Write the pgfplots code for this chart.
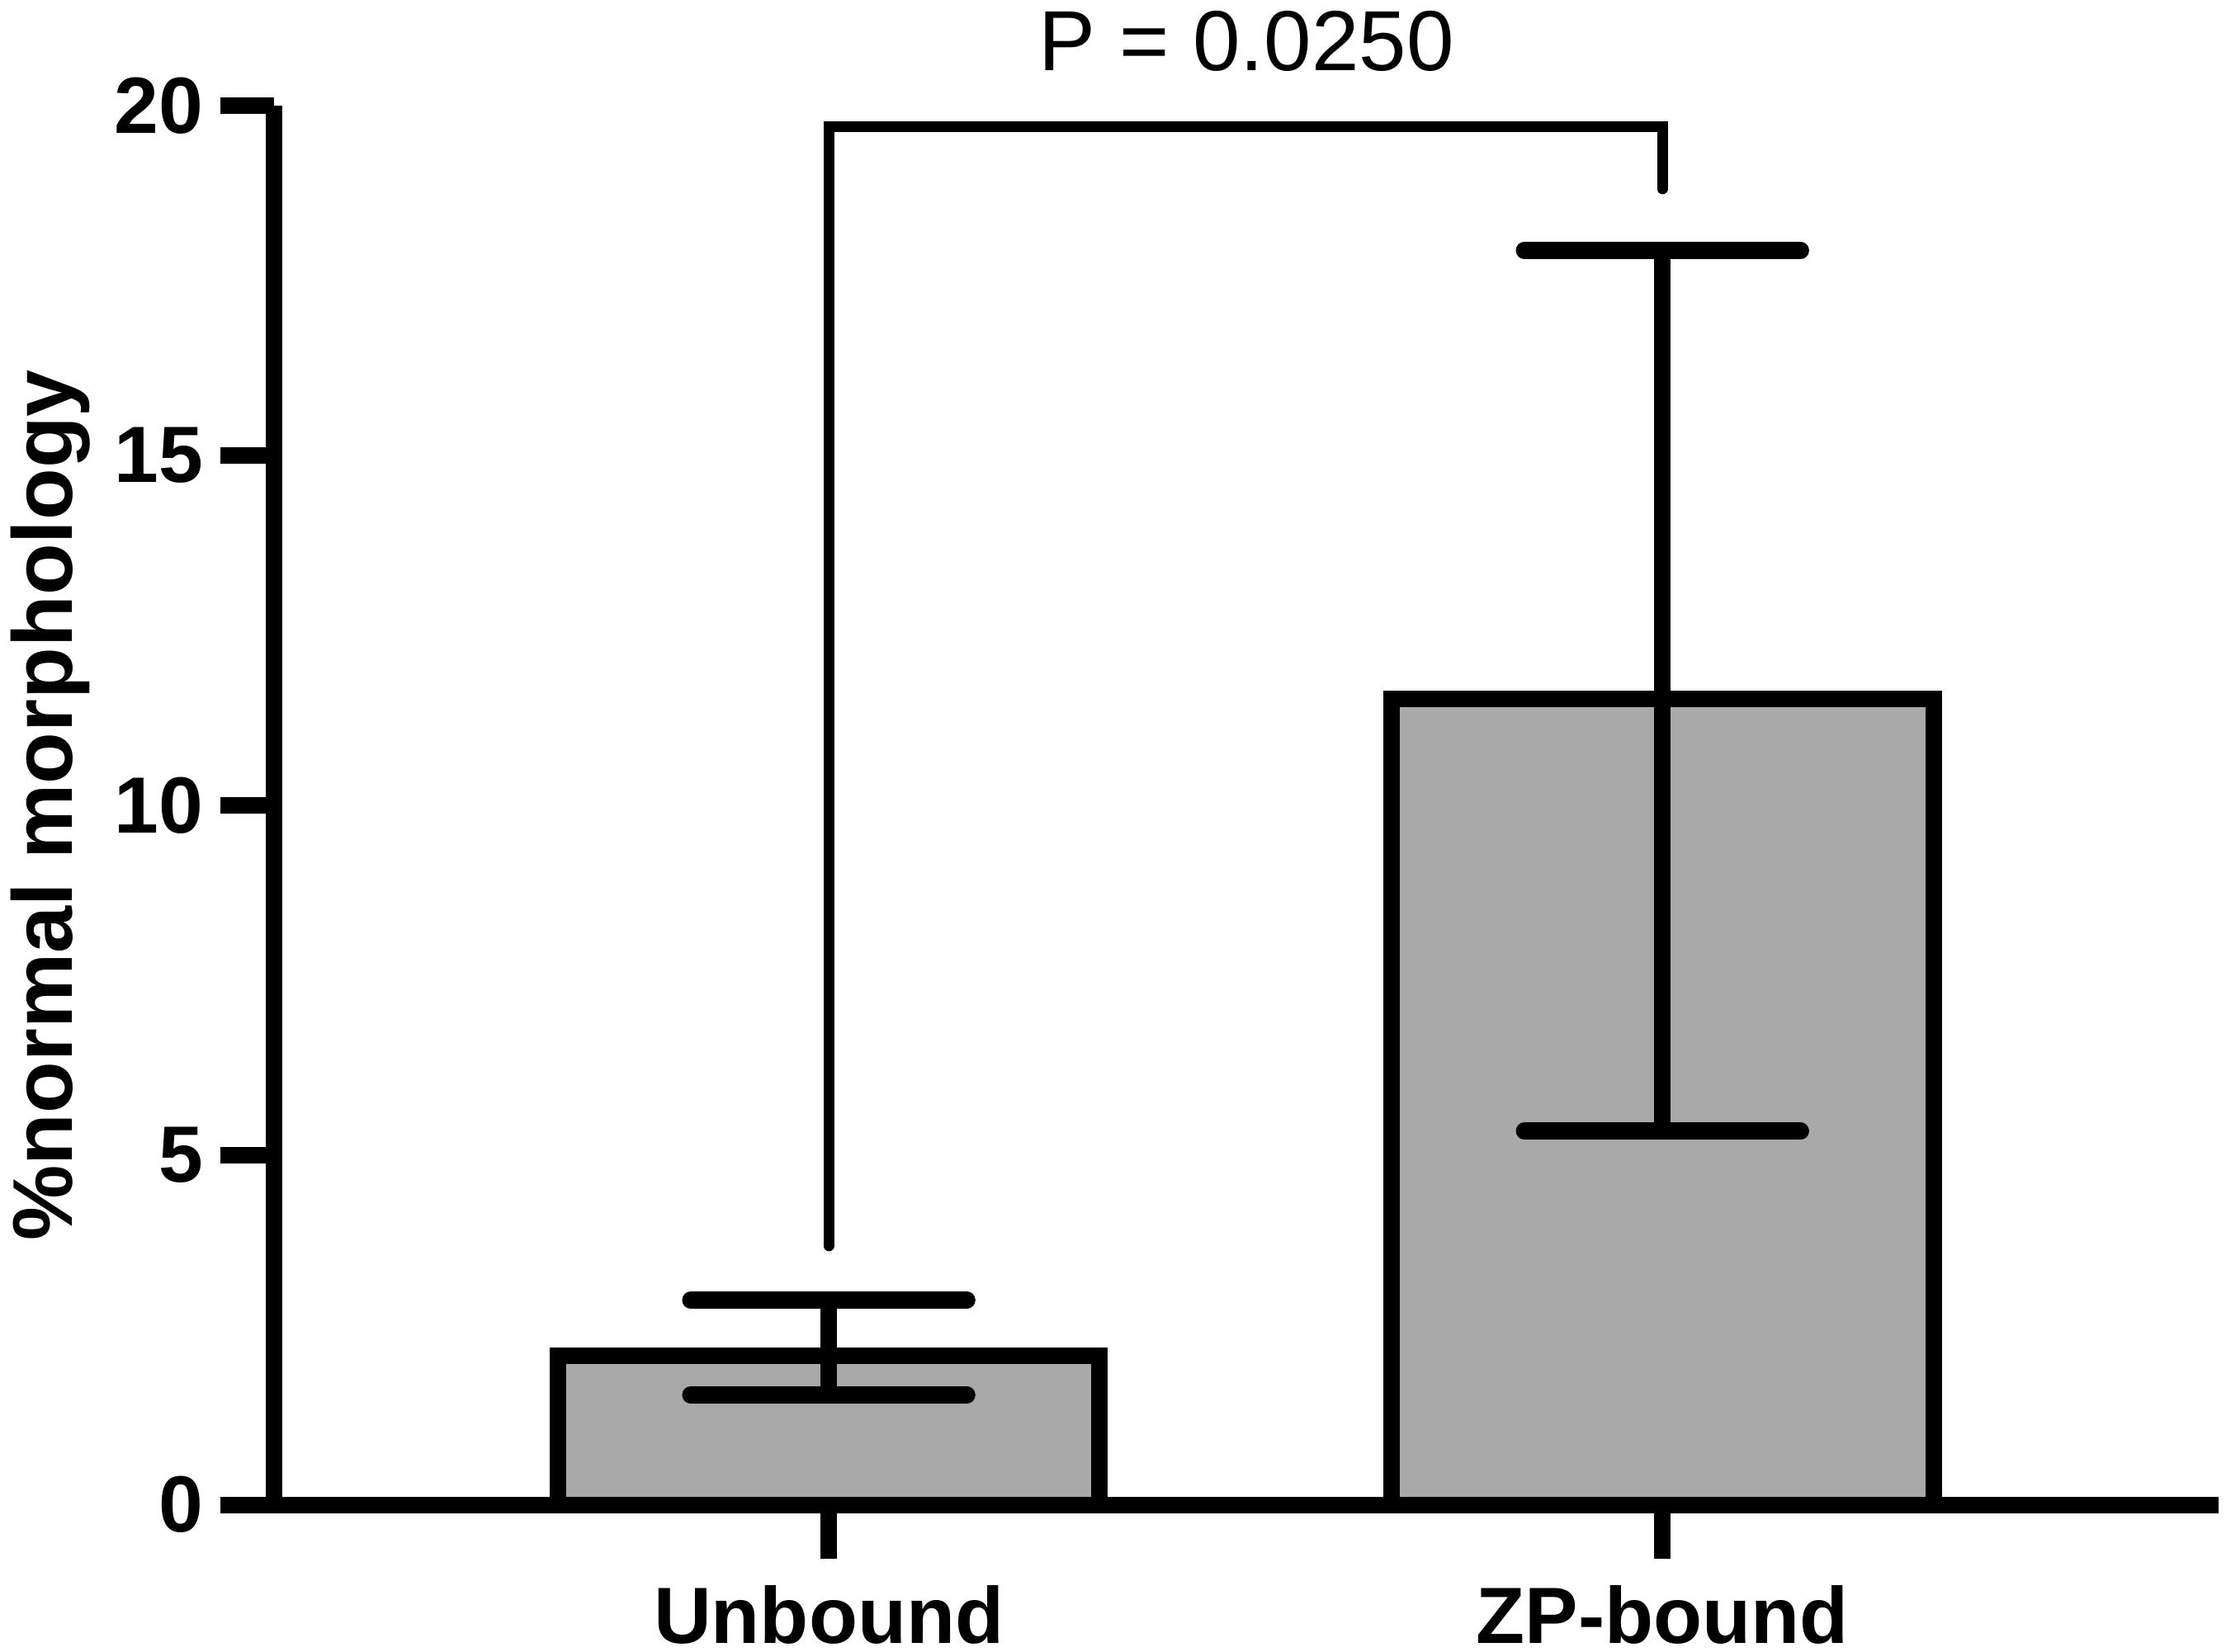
\documentclass[border=0pt]{standalone}
\usepackage{fontspec}
\setmainfont{Liberation Sans}
\usepackage{pgfplots}
\pgfplotsset{compat=1.18}
\definecolor{barGray}{RGB}{169,169,169}
\begin{document}
\begin{tikzpicture}
\begin{axis}[
  width=353.3pt, height=254.3pt, scale only axis,
  xmin=-0.665, xmax=1.667, ymin=0, ymax=20,
  clip=false,
  axis x line=bottom, axis y line=left,
  axis line style={-, line width=3pt},
  ytick={0,5,10,15,20},
  xtick={0,1}, xticklabels={Unbound, ZP-bound},
  tick align=outside,
  major tick length=9.8pt,
  tick style={line width=3pt, black},
  /pgf/number format/assume math mode=true,
  ticklabel style={font=\fontsize{14.5}{17}\selectfont\bfseries},
  yticklabel style={anchor=east, inner sep=0pt, xshift=-2.9pt},
  xticklabel style={anchor=base, inner sep=0pt, yshift=-15.4pt},
  every axis title shift=0pt,
  title={P = 0.0250},
  title style={font=\fontsize{15.5}{18}\selectfont, at={(axis description cs:0.5,1.0252)}, anchor=base, inner sep=0pt},
  ylabel={\%normal morphology},
  ylabel style={font=\fontsize{15.4}{18}\selectfont\bfseries, at={(axis description cs:-0.1039,0.5)}, anchor=base, inner sep=0pt},
]
\addplot[ybar, bar width=0.650, fill=barGray, draw=black, line width=3pt,
  error bars/.cd, y dir=both, y explicit,
  error mark=|,
  error bar style={line width=3pt, black, solid},
  error mark options={line width=3.1pt, mark size=25.1pt, line cap=round, black}]
  coordinates {(0,2.135) += (0,0.79) -= (0,0.566) (1,11.52) += (0,6.41) -= (0,6.18)};
\addplot[black, line width=1.95pt, line cap=round, mark=none]
  coordinates {(0,3.70) (0,19.70) (1,19.70) (1,18.81)};
\coordinate (SW) at (rel axis cs:0,0);
\coordinate (NE) at (rel axis cs:1,1);
\end{axis}
\pgfresetboundingbox
\path[use as bounding box] ([xshift=-49.86pt,yshift=-26.7pt]SW) rectangle ([xshift=1.35pt,yshift=19.2pt]NE);
\end{tikzpicture}
\end{document}
